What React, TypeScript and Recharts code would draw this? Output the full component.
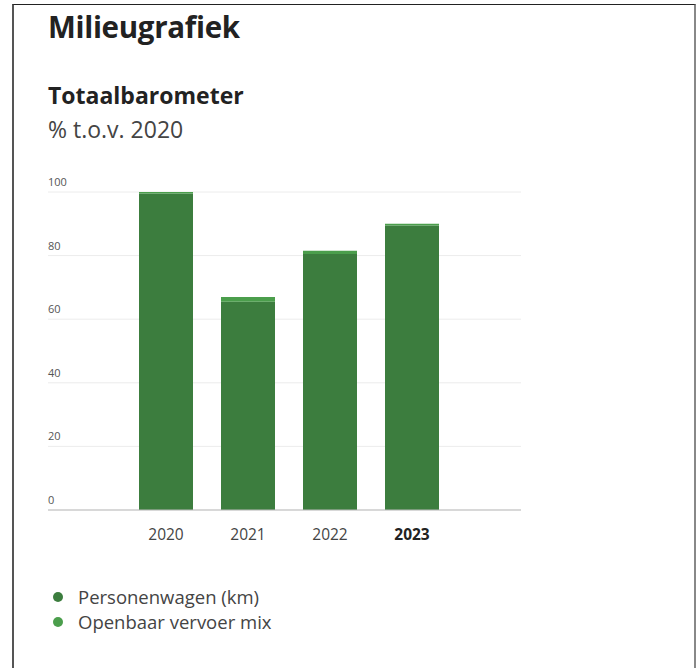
import { BarChart, Bar, XAxis, YAxis, CartesianGrid } from 'recharts';

// jaren en waarden (% t.o.v. 2020)
const years = ['2020', '2021', '2022', '2023'];
const personenwagen = [99.5, 65.5, 80.5, 89.5];
const openbaarVervoer = [0.5, 1.5, 1, 0.5];
const yTicks = [0, 20, 40, 60, 80, 100];

const seriesNames = ['Personenwagen (km)', 'Openbaar vervoer mix'];
const seriesColors = ['#3c7d3e', '#4b9e4c'];

const data = years.map((year, i) => ({
  year,
  auto: personenwagen[i],
  ov: openbaarVervoer[i],
}));

const font = '"Open Sans", sans-serif';

const XTick = (props: any) => {
  const { x, y, payload } = props;
  const last = payload.value === years[years.length - 1];
  return (
    <text
      x={x}
      y={y + 22}
      textAnchor="middle"
      fontSize={15.5}
      fontFamily={font}
      fontWeight={last ? 700 : 400}
      fill={last ? '#222' : '#444'}
    >
      {payload.value}
    </text>
  );
};

// labels links uitgelijnd, boven de rasterlijn
const YTick = (props: any) => {
  const { y, payload } = props;
  return (
    <text x={48} y={y - 6} textAnchor="start" fontSize={11} fontFamily={font} fill="#555">
      {payload.value}
    </text>
  );
};

export default function App() {
  return (
    <div style={{ position: 'absolute', left: 0, top: 0, width: 699, height: 668, background: '#fff', overflow: 'hidden' }}>
      {/* kader */}
      <div
        style={{
          position: 'absolute',
          left: 12,
          top: 4,
          width: 680,
          height: 680,
          borderLeft: '2px solid #555',
          borderTop: '1px solid #222',
          borderRight: '2px solid #888',
        }}
      />
      <div style={{ position: 'absolute', left: 48, top: 6, lineHeight: 'normal', fontFamily: font, fontWeight: 700, fontSize: 29.5, color: '#222', letterSpacing: -0.3 }}>
        Milieugrafiek
      </div>
      <div style={{ position: 'absolute', left: 48, top: 79, lineHeight: 'normal', fontFamily: font, fontWeight: 700, fontSize: 23, color: '#222' }}>
        Totaalbarometer
      </div>
      <div style={{ position: 'absolute', left: 48, top: 113, lineHeight: 'normal', fontFamily: font, fontSize: 23, color: '#444' }}>
        % t.o.v. 2020
      </div>
      <div style={{ position: 'absolute', left: 0, top: 0 }}>
        <BarChart
          width={699}
          height={668}
          data={data}
          margin={{ top: 192, left: 0, right: 178, bottom: 128 }}
        >
          <CartesianGrid horizontal vertical={false} stroke="#ececec" />
          <XAxis
            dataKey="year"
            height={30}
            padding={{ left: 77, right: 68 }}
            axisLine={{ stroke: '#bbb' }}
            tickLine={false}
            tick={<XTick />}
            interval={0}
          />
          <YAxis
            domain={[0, 100]}
            ticks={yTicks}
            width={48}
            axisLine={false}
            tickLine={false}
            tick={<YTick />}
          />
          <Bar dataKey="auto" name={seriesNames[0]} stackId="a" fill={seriesColors[0]} barSize={54} isAnimationActive={false} />
          <Bar dataKey="ov" name={seriesNames[1]} stackId="a" fill={seriesColors[1]} barSize={54} isAnimationActive={false} />
        </BarChart>
      </div>
      {/* legenda */}
      <div style={{ position: 'absolute', left: 48, top: 584, fontFamily: font, fontSize: 18.5, color: '#444' }}>
        {seriesNames.map((name, i) => (
          <div key={name} style={{ display: 'flex', alignItems: 'center', height: 25 }}>
            <span
              style={{
                display: 'inline-block',
                width: 10,
                height: 10,
                borderRadius: 5,
                background: seriesColors[i],
                marginLeft: 5,
                marginRight: 15,
              }}
            />
            {name}
          </div>
        ))}
      </div>
    </div>
  );
}
